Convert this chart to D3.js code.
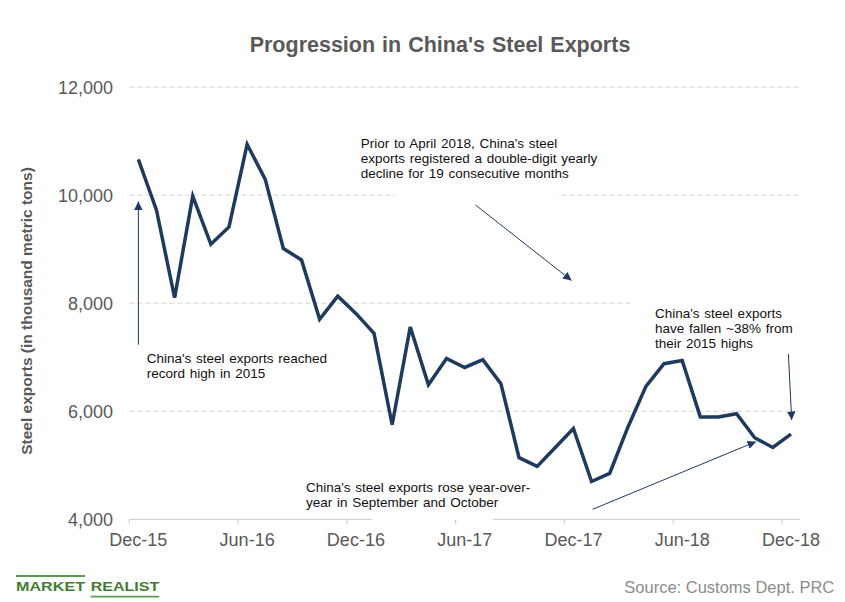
<!DOCTYPE html>
<html><head><meta charset="utf-8">
<script src="https://cdn.jsdelivr.net/npm/d3@7"></script>
<style>body{margin:0;background:#fff} svg{display:block}</style>
</head><body>
<svg id="c" width="845" height="602"></svg>
<script>
// ---- data ----
const months = ["Dec-15","Jan-16","Feb-16","Mar-16","Apr-16","May-16","Jun-16","Jul-16","Aug-16","Sep-16","Oct-16","Nov-16",
  "Dec-16","Jan-17","Feb-17","Mar-17","Apr-17","May-17","Jun-17","Jul-17","Aug-17","Sep-17","Oct-17","Nov-17",
  "Dec-17","Jan-18","Feb-18","Mar-18","Apr-18","May-18","Jun-18","Jul-18","Aug-18","Sep-18","Oct-18","Nov-18","Dec-18"];
const steelExports = [10660, 9720, 8100, 9980, 9090, 9410, 10940, 10290, 9010, 8800, 7700, 8130,
  7810, 7440, 5750, 7560, 6490, 6975, 6810, 6955, 6510, 5140, 4980, 5330,
  5680, 4700, 4850, 5700, 6460, 6880, 6940, 5895, 5895, 5955, 5510, 5330, 5575];
const xTickLabels = ["Dec-15","Jun-16","Dec-16","Jun-17","Dec-17","Jun-18","Dec-18"];
const yTicks = [4000, 6000, 8000, 10000, 12000];
const gridTicks = [6000, 8000, 10000, 12000];
const titleText = "Progression in China's Steel Exports";
const yTitleText = "Steel exports (in thousand metric tons)";
const sourceText = "Source: Customs Dept. PRC";
const note1 = ["China's steel exports reached", "record high in 2015"];
const note2 = ["Prior to April 2018, China's steel", "exports registered a double-digit yearly", "decline for 19 consecutive months"];
const note3 = ["China's steel exports rose year-over-", "year in September and October"];
const note4 = ["China's steel exports", "have fallen ~38% from", "their 2015 highs"];
// arrows in data units: [fromIndex, fromValue, toIndex, toValue]
const arrows = [[0, 7230, 0, 9880], [18.6, 9816, 23.9, 8419], [25.06, 4185, 34.07, 5437], [35.86, 7061, 36.04, 5839]];

// ---- layout ----
const L = 129.3, R = 800, T = 87, B = 519.3;
const font = "'Liberation Sans', Arial, sans-serif";
const svg = d3.select("#c").attr("font-family", font);

const x = d3.scaleBand().domain(months).range([L, R]).padding(0);
const bw = x.bandwidth();
const xi = d3.scaleLinear().domain([-0.5, months.length - 0.5]).range([L, R]);
const y = d3.scaleLinear().domain([4000, 12000]).range([B, T]);

const defs = svg.append("defs");
defs.append("marker").attr("id", "ah").attr("viewBox", "0 0 10 10")
  .attr("refX", 10).attr("refY", 5).attr("markerWidth", 8.5).attr("markerHeight", 8.5)
  .attr("markerUnits", "userSpaceOnUse").attr("orient", "auto")
  .append("path").attr("d", "M0,0 L10,5 L0,10 z").attr("fill", "#1f3864");

// gridlines
svg.append("g").selectAll("line").data(gridTicks).join("line")
  .attr("x1", L).attr("x2", R).attr("y1", d => y(d)).attr("y2", d => y(d))
  .attr("stroke", "#d4d4d4").attr("stroke-width", 1).attr("stroke-dasharray", "5,3");

// x axis line and ticks (between categories)
svg.append("line").attr("x1", L).attr("x2", R).attr("y1", B).attr("y2", B)
  .attr("stroke", "#d4d4d4").attr("stroke-width", 1.3);
const tickMonths = months.filter(m => xTickLabels.includes(m));
svg.append("g").selectAll("line").data(tickMonths).join("line")
  .attr("x1", d => x(d)).attr("x2", d => x(d)).attr("y1", B).attr("y2", B + 5)
  .attr("stroke", "#d4d4d4").attr("stroke-width", 1.3);

// text box masks (white backgrounds of annotation boxes)
svg.append("rect").attr("x", 395).attr("y", 188).attr("width", 162).attr("height", 12).attr("fill", "#fff");
svg.append("rect").attr("x", 630).attr("y", 296).attr("width", 175).attr("height", 14).attr("fill", "#fff");
svg.append("rect").attr("x", 372).attr("y", 512).attr("width", 121).attr("height", 8).attr("fill", "#fff");

// x axis labels
const xAxis = d3.axisBottom(x).tickValues(xTickLabels).tickSize(0).tickPadding(0);
const gx = svg.append("g").attr("transform", `translate(0,${B})`).call(xAxis);
gx.select(".domain").remove();
gx.selectAll("text").attr("font-size", 18).attr("fill", "#595959").attr("font-family", font)
  .attr("dy", null).attr("y", 26.7);

// y axis labels
const yAxis = d3.axisLeft(y).tickValues(yTicks).tickSize(0).tickPadding(0).tickFormat(d3.format(","));
const gy = svg.append("g").attr("transform", `translate(113,0)`).call(yAxis);
gy.select(".domain").remove();
gy.selectAll("text").attr("font-size", 18).attr("fill", "#595959").attr("font-family", font)
  .attr("dy", "0.34em");

// line
const line = d3.line().x((d, i) => x(months[i]) + bw / 2).y(d => y(d));
svg.append("path").datum(steelExports).attr("d", line)
  .attr("fill", "none").attr("stroke", "#1f3a5f").attr("stroke-width", 3.5)
  .attr("stroke-linejoin", "miter");

// arrows
svg.append("g").selectAll("line").data(arrows).join("line")
  .attr("x1", d => xi(d[0])).attr("y1", d => y(d[1]))
  .attr("x2", d => xi(d[2])).attr("y2", d => y(d[3]))
  .attr("stroke", "#1f3864").attr("stroke-width", 1).attr("marker-end", "url(#ah)");

// annotations
function note(lines, x0, y0) {
  const t = svg.append("text").attr("font-size", 13.5).attr("fill", "#111").attr("word-spacing", 1);
  lines.forEach((s, k) => t.append("tspan").attr("x", x0).attr("y", y0 + k * 15).text(s));
}
note(note1, 146.7, 363.3);
note(note2, 360.7, 147.7);
note(note3, 306, 492.3);
note(note4, 655, 318.3);

// title
svg.append("text").attr("x", 440).attr("y", 51.7).attr("text-anchor", "middle")
  .attr("font-size", 21.5).attr("font-weight", "bold").attr("fill", "#595959").attr("word-spacing", 1)
  .text(titleText);

// y title
svg.append("text").attr("transform", "translate(32,311) rotate(-90)").attr("text-anchor", "middle")
  .attr("font-size", 15.5).attr("font-weight", "bold").attr("fill", "#595959")
  .text(yTitleText);

// source
svg.append("text").attr("x", 834.3).attr("y", 592.5).attr("text-anchor", "end")
  .attr("font-size", 16.5).attr("fill", "#8c8c8c")
  .text(sourceText);

// logo
const green = "#3f7d32";
svg.append("text").attr("x", 16).attr("y", 590.7).attr("font-size", 12.5).attr("font-weight", "bold")
  .attr("fill", green).attr("textLength", 69).attr("lengthAdjust", "spacingAndGlyphs").text("MARKET");
svg.append("text").attr("x", 90.7).attr("y", 590.7).attr("font-size", 12.5).attr("font-weight", "bold")
  .attr("fill", green).attr("textLength", 68.6).attr("lengthAdjust", "spacingAndGlyphs").text("REALIST");
svg.append("line").attr("x1", 16).attr("x2", 85).attr("y1", 576).attr("y2", 576).attr("stroke", "#5a9a4a").attr("stroke-width", 1.8);
svg.append("line").attr("x1", 90.7).attr("x2", 159.3).attr("y1", 596.7).attr("y2", 596.7).attr("stroke", "#5a9a4a").attr("stroke-width", 1.8);
</script>
</body></html>
